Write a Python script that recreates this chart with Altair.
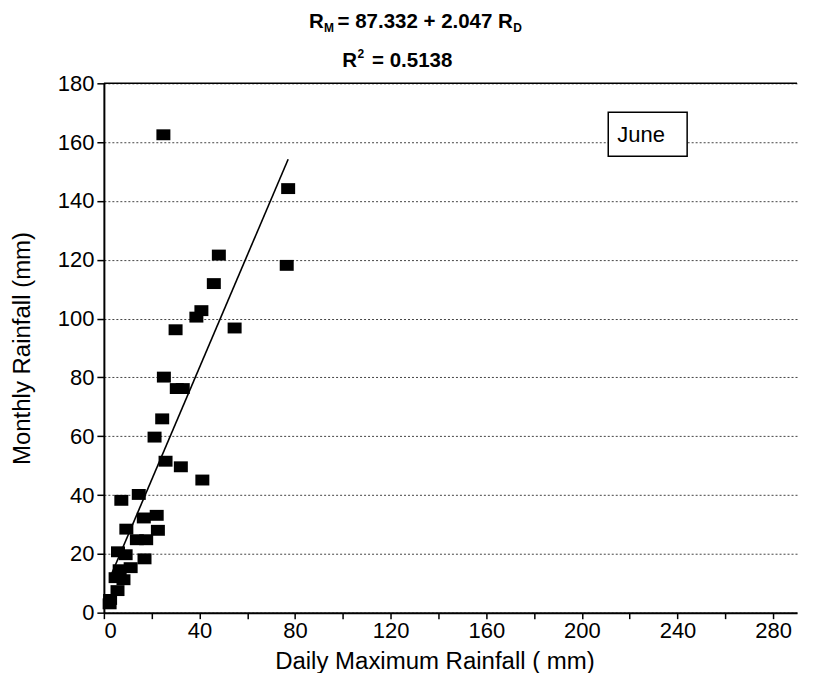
import altair as alt
import pandas as pd

# Data
daily_max = [24.9, 77.1, 76.5, 48.1, 46.0, 40.8, 38.7, 30.0, 54.7, 25.1, 30.5, 33.0,
             24.4, 21.2, 25.8, 32.2, 41.2, 7.3, 14.6, 16.7, 22.1, 9.4, 22.6, 13.8,
             17.7, 5.9, 9.1, 17.0, 11.2, 6.6, 4.9, 8.2, 5.7, 2.6, 2.4]
monthly = [162.5, 144.2, 118.1, 121.6, 111.9, 102.7, 100.5, 96.2, 96.8, 80.1, 76.2, 76.2,
           65.9, 59.7, 51.5, 49.6, 45.1, 38.2, 40.2, 32.2, 33.1, 28.4, 28.0, 24.8,
           24.8, 20.7, 19.7, 18.3, 15.3, 14.6, 11.9, 11.2, 7.5, 4.5, 3.0]

fit_x = [2.4, 77.1]
fit_y = [11.6, 154.2]

x_ticks = [0, 20, 40, 60, 80, 100, 120, 140, 160, 180, 200, 220, 240, 260, 280]
y_ticks = [0, 20, 40, 60, 80, 100, 120, 140, 160, 180]

title_eq = ["R", "M", "= 87.332 + 2.047 R", "D"]
title_r2 = ["R", "2", "= 0.5138"]
month_label = "June"
x_title = "Daily Maximum Rainfall ( mm)"
y_title = "Monthly Rainfall (mm)"

W, H = 694, 530
FONT = "Liberation Sans"

pts = pd.DataFrame({"x": daily_max, "y": monthly})
fit = pd.DataFrame({"x": fit_x, "y": fit_y})

xscale = alt.Scale(domain=[0, 290], nice=False, zero=False)
yscale = alt.Scale(domain=[0, 180], nice=False)

xaxis = alt.Axis(values=x_ticks, labelExpr="datum.value % 40 == 0 ? datum.label : ''",
                 grid=False, tickSize=6, tickColor="black", tickWidth=1.5,
                 domainColor="black", domainWidth=2, labelFont=FONT, labelFontSize=22,
                 labelColor="black", labelPadding=2, title=x_title, titleFont=FONT,
                 titleFontSize=24, titleFontWeight="normal", titleColor="black",
                 titleX=331, titleY=49, titleBaseline="middle", titleAlign="center")
yaxis = alt.Axis(values=y_ticks, grid=True, gridDash=[2, 2], gridColor="#444444",
                 gridWidth=1, tickSize=7, tickColor="black", tickWidth=1.5,
                 domainColor="black", domainWidth=2, labelFont=FONT, labelFontSize=22,
                 labelColor="black", labelPadding=3, title=y_title, titleFont=FONT,
                 titleFontSize=24, titleFontWeight="normal", titleColor="black",
                 titleX=-81, titleY=265, titleBaseline="middle", titleAlign="center",
                 titleAngle=270)

rect_path = "M-1,-0.78L1,-0.78L1,0.78L-1,0.78Z"

points = alt.Chart(pts).mark_point(shape=rect_path, size=196, filled=True,
                                   color="black", opacity=1).encode(
    x=alt.X("x:Q", scale=xscale, axis=xaxis),
    y=alt.Y("y:Q", scale=yscale, axis=yaxis),
)

line = alt.Chart(fit).mark_line(color="black", strokeWidth=1.6).encode(
    x=alt.X("x:Q", scale=xscale),
    y=alt.Y("y:Q", scale=yscale),
)

one = alt.Data(values=[{"a": 1}])

top_border = alt.Chart(one).mark_rule(color="black", strokeWidth=1.5).encode(
    x=alt.value(0), x2=alt.value(W), y=alt.value(0))

box = alt.Chart(one).mark_rect(fill="white", stroke="black", strokeWidth=1.5).encode(
    x=alt.value(505), x2=alt.value(584), y=alt.value(29), y2=alt.value(73))
box_text = alt.Chart(one).mark_text(font=FONT, fontSize=22, color="black",
                                    align="left", baseline="alphabetic").encode(
    x=alt.value(514), y=alt.value(59), text=alt.value(month_label))

def txt(s, x, y, size, align="left"):
    return alt.Chart(one).mark_text(font=FONT, fontSize=size, fontWeight="bold",
                                    color="black", align=align,
                                    baseline="alphabetic").encode(
        x=alt.value(x), y=alt.value(y), text=alt.value(s))

t1 = txt(title_eq[0], 205.5, -55, 20.5)
t2 = txt(title_eq[1], 220.5, -51, 12)
t3 = txt(title_eq[2], 234.0, -55, 20.5)
t4 = txt(title_eq[3], 410.0, -51, 12)
r1 = txt(title_r2[0], 238.7, -16, 20.5)
r2 = txt(title_r2[1], 254.0, -25, 12)
r3 = txt(title_r2[2], 268.5, -16, 20.5)

chart = alt.layer(points, line, top_border, box, box_text,
                  t1, t2, t3, t4, r1, r2, r3).properties(
    width=W, height=H,
    padding={"left": 96, "top": 75, "right": 10, "bottom": 60},
    autosize=alt.AutoSizeParams(type="none"),
).configure_view(strokeWidth=0)

chart.save("out.html", embed_options={"renderer": "svg", "actions": False})
